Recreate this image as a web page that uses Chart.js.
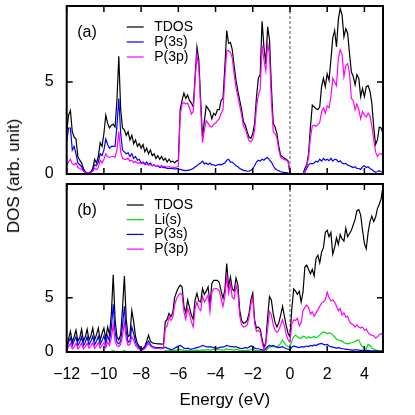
<!DOCTYPE html>
<html><head><meta charset="utf-8">
<script src="https://cdn.jsdelivr.net/npm/chart.js@4.4.0/dist/chart.umd.min.js"></script>
<style>
html,body{margin:0;padding:0;background:#fff;width:415px;height:415px;overflow:hidden;}
#wrap{position:relative;width:415px;height:415px;background:#fff;}
canvas{position:absolute;left:0;}
#ytitle{position:absolute;left:14px;top:176px;transform:translate(-50%,-50%) rotate(-90deg);font:17px 'Liberation Sans',Arial,sans-serif;white-space:nowrap;color:#000;}
</style></head><body>
<div id="wrap">
<canvas id="ca" width="415" height="180" style="top:0"></canvas>
<canvas id="cb" width="415" height="237" style="top:178px"></canvas>
<div id="ytitle">DOS (arb. unit)</div>
</div>
<script>
const energy = [
-12.0,-11.9,-11.8,-11.7,-11.6,-11.5,-11.4,-11.3,-11.2,-11.1,
-11.0,-10.9,-10.8,-10.7,-10.6,-10.5,-10.4,-10.3,-10.2,-10.1,
-10.0,-9.9,-9.8,-9.7,-9.6,-9.5,-9.4,-9.3,-9.2,-9.1,
-9.0,-8.9,-8.8,-8.7,-8.6,-8.5,-8.4,-8.3,-8.2,-8.1,
-8.0,-7.9,-7.8,-7.7,-7.6,-7.5,-7.4,-7.3,-7.2,-7.1,
-7.0,-6.9,-6.8,-6.7,-6.6,-6.5,-6.4,-6.3,-6.2,-6.1,
-6.0,-5.9,-5.8,-5.7,-5.6,-5.5,-5.4,-5.3,-5.2,-5.1,
-5.0,-4.9,-4.8,-4.7,-4.6,-4.5,-4.4,-4.3,-4.2,-4.1,
-4.0,-3.9,-3.8,-3.7,-3.6,-3.5,-3.4,-3.3,-3.2,-3.1,
-3.0,-2.9,-2.8,-2.7,-2.6,-2.5,-2.4,-2.3,-2.2,-2.1,
-2.0,-1.9,-1.8,-1.7,-1.6,-1.5,-1.4,-1.3,-1.2,-1.1,
-1.0,-0.9,-0.8,-0.7,-0.6,-0.5,-0.4,-0.3,-0.2,-0.1,
0.0,0.1,0.2,0.3,0.4,0.5,0.6,0.7,0.8,0.9,
1.0,1.1,1.2,1.3,1.4,1.5,1.6,1.7,1.8,1.9,
2.0,2.1,2.2,2.3,2.4,2.5,2.6,2.7,2.8,2.9,
3.0,3.1,3.2,3.3,3.4,3.5,3.6,3.7,3.8,3.9,
4.0,4.1,4.2,4.3,4.4,4.5,4.6,4.7,4.8,4.9,
5.0];

// Panel (a)
const tdosA = [
2.3,3.2,3.45,2.3,2.0,1.9,0.95,0.75,0.6,0.3,
0.12,0.07,0.07,0.12,0.3,0.8,0.6,0.95,1.7,1.5,
2.2,3.2,2.75,2.5,2.65,2.7,2.55,4.0,6.4,3.5,
2.5,2.4,2.1,2.3,1.85,2.1,1.65,1.85,1.5,1.65,
1.4,1.6,1.2,1.4,1.1,1.3,1.0,1.1,0.85,1.0,
0.8,0.95,0.75,0.85,0.65,0.8,0.65,0.7,0.6,0.7,
0.75,3.5,4.0,4.4,4.1,4.3,4.0,3.85,3.65,5.3,
6.9,6.2,4.0,2.0,2.9,3.7,3.55,3.4,3.0,3.3,
3.2,3.5,3.5,4.0,4.1,5.8,7.8,7.1,7.15,6.75,
5.85,5.1,4.5,4.0,3.5,2.85,2.65,2.3,2.0,1.95,
2.2,2.75,4.2,5.2,5.4,8.3,6.9,6.0,8.0,7.3,
4.75,2.75,2.55,2.2,1.5,1.0,0.95,0.85,0.8,0.7,
0.05,0,0,0,0,0,0,0,0.3,0.5,
1.1,2.55,3.75,3.65,3.55,3.5,3.65,4.75,5.2,4.75,
5.45,5.1,6.2,7.4,7.8,6.9,8.4,9.0,8.65,7.45,
7.9,7.65,6.55,5.55,5.3,4.85,5.4,5.2,4.2,4.65,
4.2,4.75,4.8,4.5,3.85,2.55,1.6,1.85,2.55,2.5,
2.2];
const p3sA = [
1.75,2.5,2.5,1.3,1.5,1.1,0.6,0.5,0.4,0.2,
0.09,0.07,0.07,0.1,0.2,0.5,0.45,0.65,1.1,1.0,
1.3,1.9,1.6,1.4,1.5,1.5,1.5,2.6,4.1,2.2,
1.3,1.2,1.1,1.15,0.95,1.1,0.85,0.95,0.75,0.8,
0.6,0.65,0.55,0.65,0.5,0.6,0.45,0.5,0.4,0.45,
0.35,0.4,0.35,0.35,0.3,0.3,0.3,0.3,0.27,0.3,
0.25,0.25,0.22,0.2,0.18,0.2,0.22,0.25,0.3,0.38,
0.45,0.55,0.6,0.7,0.55,0.6,0.52,0.6,0.5,0.5,
0.45,0.5,0.52,0.5,0.55,0.6,0.75,0.8,0.65,0.65,
0.55,0.45,0.4,0.3,0.25,0.2,0.18,0.15,0.15,0.2,
0.3,0.45,0.65,0.75,0.7,0.8,0.75,0.85,0.9,0.75,
0.65,0.45,0.3,0.22,0.18,0.12,0.1,0.08,0.07,0.05,
0,0,0,0,0,0,0,0,0.1,0.3,
0.5,0.58,0.55,0.6,0.7,0.65,0.8,0.7,0.85,0.75,
0.8,0.72,0.85,0.7,0.8,0.78,0.65,0.72,0.6,0.55,
0.58,0.48,0.45,0.4,0.35,0.4,0.3,0.3,0.25,0.4,
0.45,0.35,0.4,0.3,0.25,0.15,0.1,0.12,0.18,0.12,
0.1];
const p3pA = [
0.5,0.65,0.8,0.55,0.5,0.6,0.35,0.3,0.25,0.15,
0.08,0.05,0.05,0.08,0.15,0.3,0.25,0.35,0.75,0.6,
0.8,1.1,0.95,0.9,0.95,0.95,0.9,1.3,2.3,1.2,
0.85,0.8,0.8,0.85,0.7,0.75,0.62,0.68,0.58,0.62,
0.55,0.6,0.5,0.55,0.48,0.52,0.45,0.48,0.42,0.45,
0.42,0.45,0.4,0.42,0.37,0.4,0.36,0.38,0.34,0.38,
0.4,3.2,3.8,3.9,3.8,3.85,3.6,3.25,3.4,5.0,
6.5,5.8,3.6,1.7,2.4,2.9,2.75,2.6,2.55,2.7,
2.75,2.9,3.0,3.3,3.5,5.2,6.7,6.7,6.6,6.3,
5.4,4.7,4.2,3.7,3.2,2.6,2.45,2.1,1.8,1.75,
1.9,2.4,3.6,4.3,4.6,7.0,6.2,5.6,7.1,6.5,
4.0,2.3,2.2,1.95,1.3,0.9,0.85,0.78,0.75,0.68,
0.05,0,0,0,0,0,0,0,0.15,0.4,
0.9,2.0,2.6,2.65,2.6,2.7,2.8,3.4,3.6,3.3,
3.7,3.6,4.2,5.2,5.0,4.8,6.3,6.75,6.5,5.3,
5.9,6.0,5.5,4.1,4.0,3.5,3.8,3.5,3.0,3.4,
3.2,3.1,3.3,3.15,2.6,1.9,1.2,0.95,1.1,1.1,
1.0];

// Panel (b)
const tdosB = [
0.3,1.2,1.9,0.9,1.4,2.0,1.0,1.3,2.1,1.0,
1.4,2.1,1.1,1.5,2.2,1.1,1.6,2.2,1.1,1.7,
2.2,1.2,2.3,1.6,3.5,7.1,3.0,1.4,1.1,1.6,
4.0,7.0,3.0,1.4,1.6,3.8,2.8,1.4,0.8,0.5,
0.2,0.35,0.5,1.0,1.55,1.0,0.85,0.8,0.78,0.75,
0.75,0.72,0.75,2.8,3.0,3.55,3.25,3.6,5.0,5.5,
5.9,6.15,6.0,4.2,3.6,4.8,4.1,3.4,3.0,4.8,
5.4,4.7,4.6,5.85,5.3,5.6,6.0,4.3,6.3,6.6,
6.6,6.6,6.4,5.6,4.95,5.7,8.15,6.0,6.9,5.8,
5.6,6.8,6.2,3.8,2.9,2.65,2.7,2.9,3.55,4.8,
5.4,2.95,2.2,2.3,2.1,1.2,0.4,0.9,3.2,5.1,
4.8,3.5,2.7,2.3,2.7,3.4,4.2,3.3,2.4,1.7,
1.4,4.0,5.8,5.6,5.3,5.6,4.6,5.5,7.8,8.0,
7.6,7.2,7.6,7.0,8.6,8.9,8.2,9.2,9.6,11.0,
11.2,10.6,11.0,9.0,9.6,10.5,9.9,10.8,10.4,10.2,
11.4,10.6,10.9,11.2,11.7,12.2,13.0,13.1,12.6,11.2,
10.0,9.5,11.0,12.0,12.5,12.0,12.4,13.2,13.6,14.1,
15.3];
const lisB = [
0.03,0.03,0.03,0.03,0.03,0.03,0.03,0.03,0.03,0.03,
0.03,0.03,0.03,0.03,0.03,0.03,0.03,0.03,0.03,0.03,
0.03,0.03,0.03,0.03,0.06,0.12,0.06,0.03,0.03,0.03,
0.06,0.12,0.06,0.03,0.03,0.06,0.05,0.03,0.02,0.02,
0.01,0.01,0.02,0.03,0.04,0.03,0.03,0.03,0.03,0.03,
0.03,0.03,0.03,0.1,0.12,0.15,0.1,0.12,0.15,0.18,
0.2,0.22,0.2,0.15,0.12,0.15,0.15,0.12,0.1,0.15,
0.18,0.15,0.15,0.2,0.18,0.2,0.22,0.15,0.22,0.25,
0.25,0.25,0.22,0.2,0.18,0.2,0.3,0.22,0.25,0.2,
0.2,0.25,0.22,0.15,0.12,0.12,0.12,0.15,0.18,0.22,
0.25,0.15,0.12,0.12,0.12,0.08,0.05,0.1,0.3,0.45,
0.5,0.5,0.48,0.5,0.6,0.8,1.1,0.85,0.6,0.5,
0.45,1.0,1.4,1.55,1.4,1.3,1.25,1.45,1.4,1.25,
1.4,1.3,1.35,1.45,1.3,1.4,1.55,1.75,1.85,1.8,
1.7,1.75,1.7,1.55,1.4,1.2,1.1,1.05,1.0,0.85,
0.8,0.75,0.8,0.85,0.9,0.95,1.1,1.1,0.7,0.5,
0.3,0.25,0.7,0.6,0.35,0.25,0.2,0.15,0.12,0.12,
0.1];
const p3sB = [
0.2,0.9,1.3,0.6,1.0,1.4,0.6,0.9,1.4,0.6,
0.9,1.4,0.65,1.0,1.45,0.65,1.0,1.45,0.7,1.05,
1.5,0.75,1.5,1.0,2.2,4.4,1.8,0.9,0.75,1.0,
2.4,4.2,1.8,0.9,1.0,2.3,1.7,0.9,0.6,0.35,
0.15,0.25,0.4,0.8,1.0,0.7,0.5,0.45,0.42,0.4,
0.4,0.38,0.38,0.45,0.35,0.3,0.2,0.25,0.35,0.45,
0.55,0.6,0.5,0.35,0.3,0.35,0.3,0.25,0.3,0.35,
0.4,0.45,0.5,0.6,0.55,0.5,0.45,0.5,0.45,0.4,
0.35,0.35,0.4,0.45,0.45,0.5,0.6,0.55,0.5,0.5,
0.45,0.5,0.4,0.35,0.3,0.35,0.4,0.35,0.45,0.55,
0.5,0.35,0.3,0.3,0.25,0.2,0.15,0.3,0.5,0.6,
0.55,0.6,0.5,0.45,0.4,0.45,0.5,0.4,0.3,0.25,
0.2,0.45,0.55,0.5,0.45,0.4,0.5,0.45,0.5,0.55,
0.5,0.6,0.55,0.65,0.6,0.7,0.75,0.8,0.7,0.65,
0.7,0.55,0.5,0.45,0.4,0.35,0.4,0.35,0.3,0.3,
0.25,0.25,0.2,0.2,0.18,0.2,0.2,0.18,0.15,0.15,
0.12,0.12,0.15,0.12,0.1,0.1,0.1,0.1,0.08,0.08,
0.08];
const p3pB = [
0.15,0.5,0.75,0.3,0.5,0.8,0.3,0.5,0.8,0.3,
0.5,0.8,0.35,0.55,0.85,0.35,0.55,0.85,0.35,0.6,
0.85,0.4,0.9,0.6,1.3,2.5,1.0,0.6,0.5,0.7,
1.5,2.7,1.2,0.6,0.7,1.4,1.1,0.6,0.4,0.25,
0.1,0.2,0.3,0.55,0.8,0.55,0.4,0.35,0.33,0.32,
0.3,0.3,0.32,2.2,2.4,3.25,2.9,3.2,4.3,4.9,
5.2,5.4,5.3,3.7,3.0,4.0,3.5,2.8,2.3,4.0,
4.6,4.0,3.8,5.1,4.6,4.9,5.25,3.7,5.5,5.8,
5.85,5.8,5.6,4.9,4.2,5.1,6.9,5.4,6.3,5.0,
4.9,6.15,5.5,3.3,2.5,2.3,2.35,2.5,3.2,4.4,
5.0,2.6,1.9,2.0,1.8,0.9,0.2,0.7,2.2,3.7,
3.4,2.5,2.0,1.8,2.0,2.5,2.95,2.4,1.6,1.1,
0.9,2.6,2.95,2.9,3.1,2.4,2.7,3.8,4.1,4.3,
4.1,3.5,3.7,3.3,3.6,3.9,4.2,4.5,4.6,4.8,
5.5,5.0,4.7,4.8,4.6,4.2,3.8,4.0,3.4,3.6,
3.2,3.3,2.8,2.6,2.5,2.3,2.5,2.3,2.2,2.3,
2.0,2.1,1.8,1.6,1.55,1.5,1.3,1.4,1.6,1.7,
1.5];

const xTickVals = [-12,-10,-8,-6,-4,-2,0,2,4];
const yTickVals = [0,5];

const FONT = "'Liberation Sans', Arial, Helvetica, sans-serif";
Chart.defaults.font.family = FONT;

const framePlugin = {
  id: 'frame',
  beforeDatasetsDraw(chart, args, o) {
    const {ctx, chartArea: a} = chart;
    const px = chart.scales.x.getPixelForValue(0);
    ctx.save();
    ctx.strokeStyle = '#555'; ctx.lineWidth = 1; ctx.setLineDash([3,2]);
    ctx.beginPath(); ctx.moveTo(px, a.top); ctx.lineTo(px, a.bottom); ctx.stroke();
    ctx.restore();
  },
  afterDraw(chart, args, o) {
    const {ctx, chartArea: a} = chart;
    const x = chart.scales.x, y = chart.scales.y;
    ctx.save();
    ctx.strokeStyle = '#000'; ctx.lineWidth = 1.5;
    ctx.beginPath();
    x.ticks.forEach(t => { const p = x.getPixelForValue(t.value);
      ctx.moveTo(p, a.bottom); ctx.lineTo(p, a.bottom - 6);
      ctx.moveTo(p, a.top); ctx.lineTo(p, a.top + 6); });
    y.ticks.forEach(t => { const p = y.getPixelForValue(t.value);
      ctx.moveTo(a.left, p); ctx.lineTo(a.left + 6, p);
      ctx.moveTo(a.right, p); ctx.lineTo(a.right - 6, p); });
    ctx.stroke();
    ctx.lineWidth = 2;
    ctx.strokeRect(a.left, a.top, a.right - a.left, a.bottom - a.top);
    ctx.fillStyle = '#000';
    ctx.textBaseline = 'middle'; ctx.textAlign = 'left';
    ctx.font = "16px " + FONT;
    ctx.fillText(o.tag, a.left + 10.5, a.top + 27);
    ctx.font = "14px " + FONT;
    chart.data.datasets.forEach((d, i) => {
      const yy = a.top + 21 + i * o.gap;
      ctx.strokeStyle = d.borderColor; ctx.lineWidth = 1.2;
      ctx.beginPath(); ctx.moveTo(a.left + 60, yy); ctx.lineTo(a.left + 77, yy); ctx.stroke();
      ctx.fillText(d.label, a.left + 87.5, yy);
    });
    ctx.restore();
  }
};

function pts(arr) { return energy.map((e, i) => ({x: e, y: arr[i]})); }
function ds(label, arr, color, order) {
  return {label, data: pts(arr), borderColor: color, backgroundColor: color,
    borderWidth: 1.2, pointRadius: 0, tension: 0, fill: false, order};
}

function makePanel(id, datasets, yMax, showX, xHeight, tag, gap) {
  return new Chart(document.getElementById(id), {
    type: 'line',
    data: {datasets},
    options: {
      responsive: false, animation: false, devicePixelRatio: 1, events: [],
      layout: {padding: {top: 6, right: 32, left: 0, bottom: 0}},
      plugins: {legend: {display: false}, tooltip: {enabled: false}, frame: {tag, gap}},
      scales: {
        x: {
          type: 'linear', min: -12, max: 5,
          afterBuildTicks: s => { s.ticks = xTickVals.map(v => ({value: v})); },
          afterFit: s => { s.height = xHeight; s.paddingLeft = 0; s.paddingRight = 0; s.paddingTop = 0; s.paddingBottom = 0; },
          grid: {display: false, drawTicks: false}, border: {display: false},
          ticks: {display: showX, padding: 12.5, color: '#000', font: {size: 16}, maxRotation: 0, autoSkip: false,
            callback: v => v < 0 ? '\u2212' + Math.abs(v) : String(v)},
          title: {display: showX, text: 'Energy (eV)', color: '#000', font: {size: 17}, padding: {top: 0, bottom: 4.5}}
        },
        y: {
          type: 'linear', min: 0, max: yMax,
          afterBuildTicks: s => { s.ticks = yTickVals.map(v => ({value: v})); },
          afterFit: s => { s.width = 66.7; s.paddingTop = 0; s.paddingBottom = 0; s.paddingLeft = 0; s.paddingRight = 0; },
          grid: {display: false, drawTicks: false}, border: {display: false},
          ticks: {padding: 13, color: '#000', font: {size: 16}}
        }
      }
    },
    plugins: [framePlugin]
  });
}

makePanel('ca', [
  ds('TDOS', tdosA, '#000000', 3),
  ds('P(3s)', p3sA, '#0000ff', 1),
  ds('P(3p)', p3pA, '#ff00ff', 0)
], 9.13, false, 6, '(a)', 15);

makePanel('cb', [
  ds('TDOS', tdosB, '#000000', 3),
  ds('Li(s)', lisB, '#00dd00', 2),
  ds('P(3s)', p3sB, '#0000ff', 1),
  ds('P(3p)', p3pB, '#ff00ff', 0)
], 15.46, true, 63, '(b)', 14.7);
</script>
</body></html>
